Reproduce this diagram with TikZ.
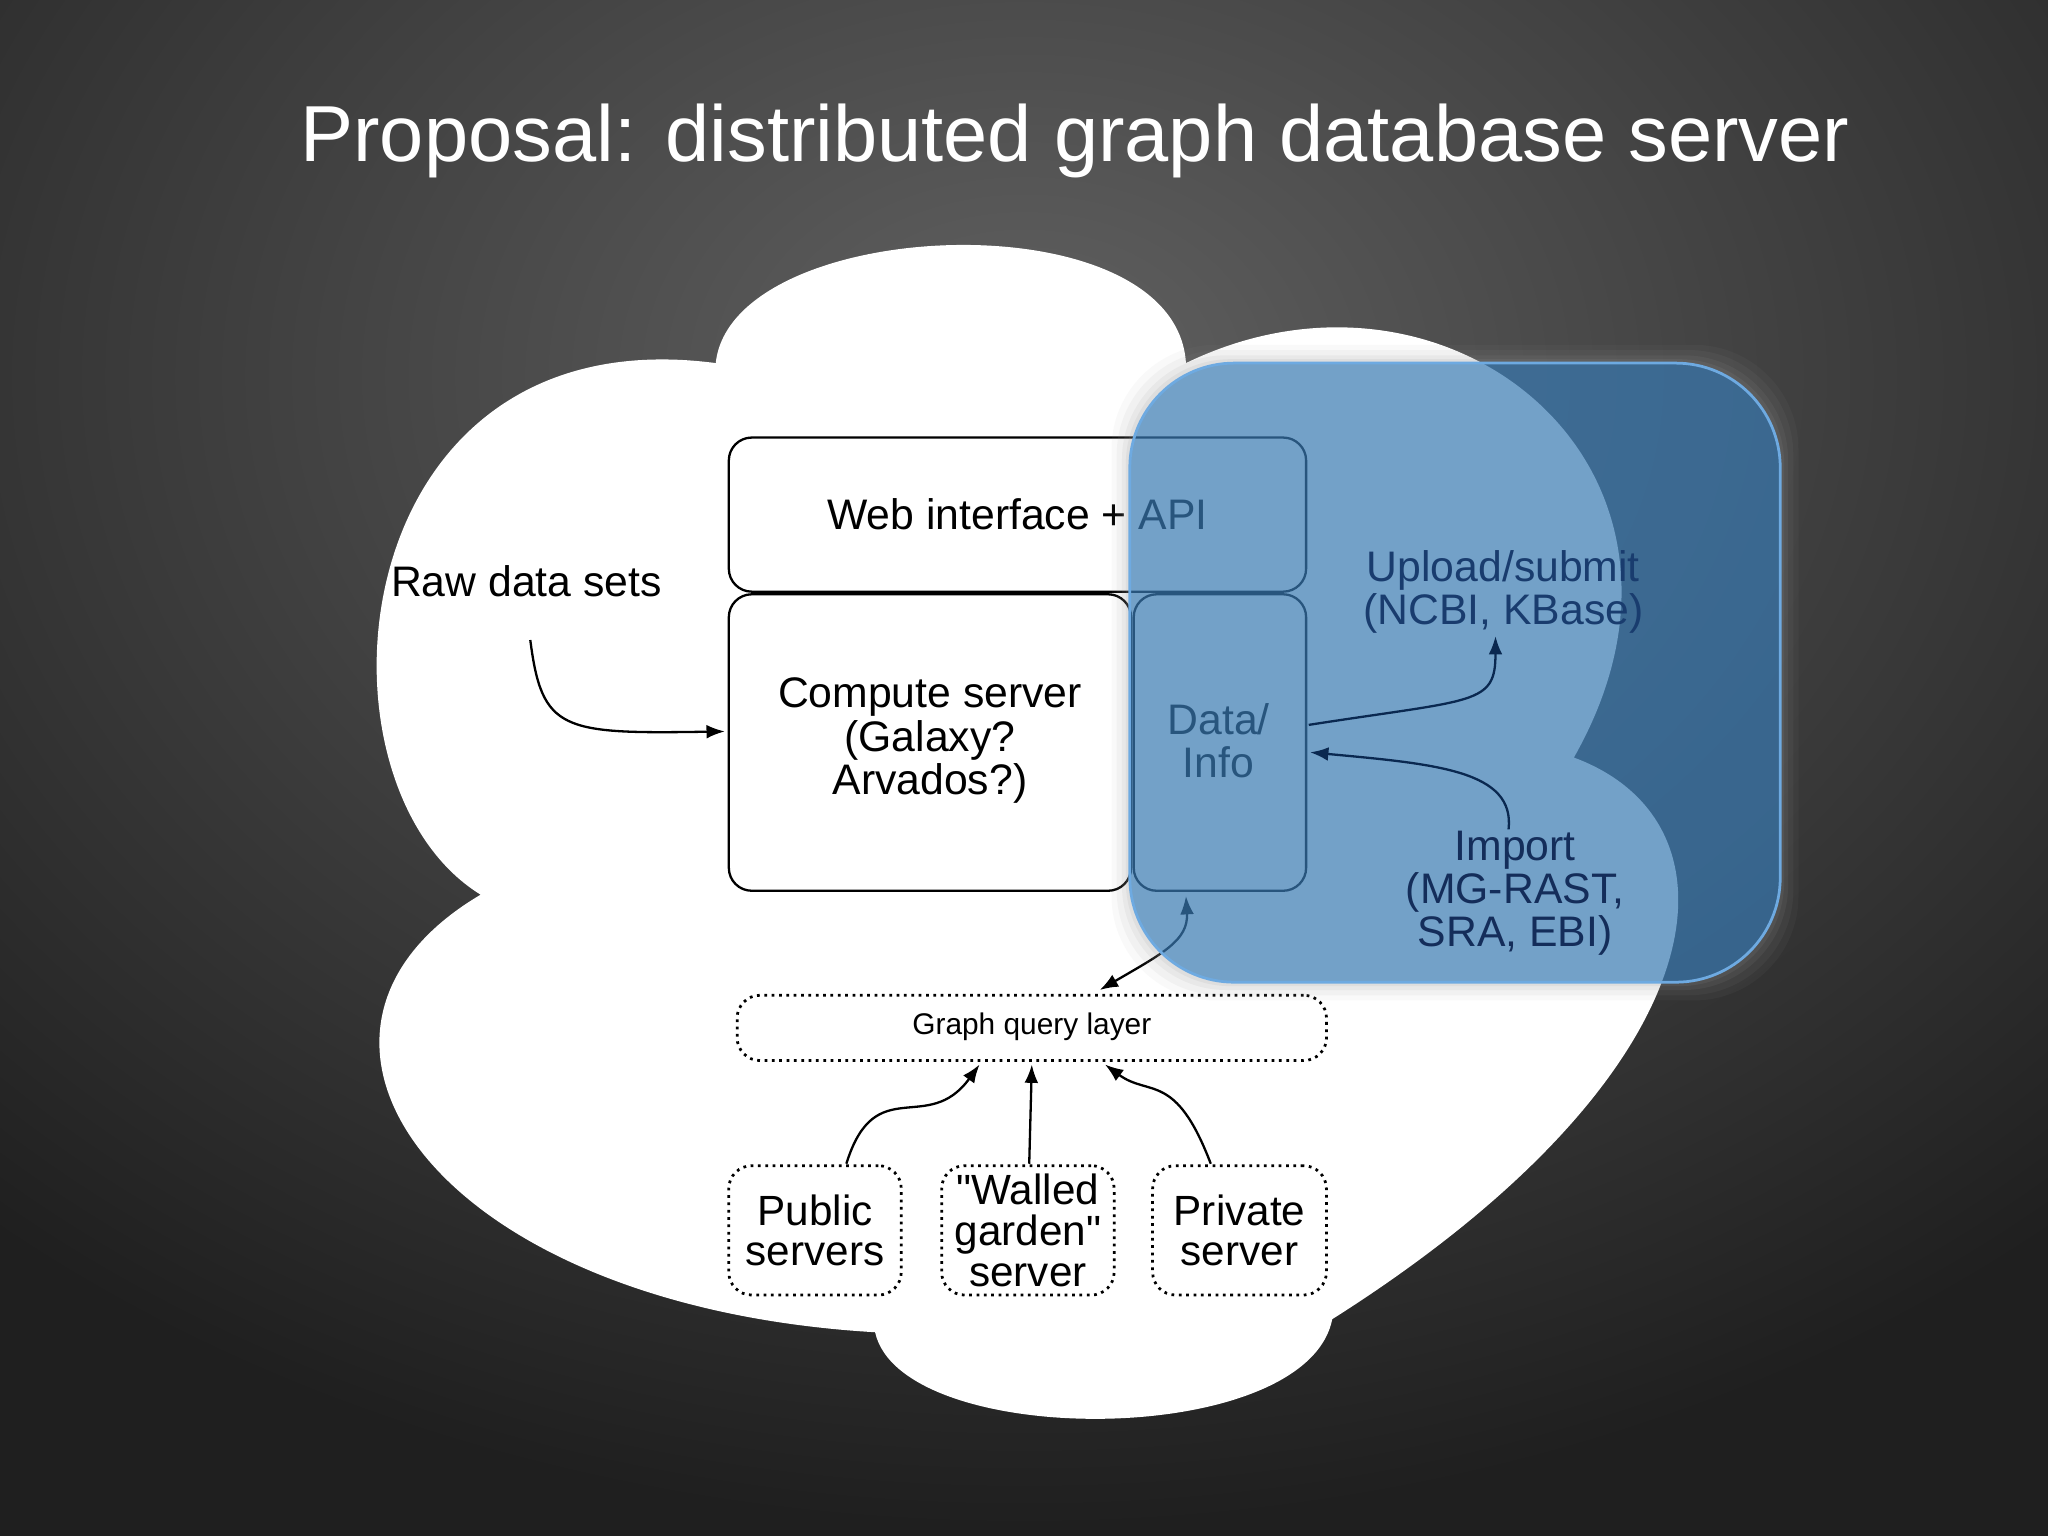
\documentclass[tikz,border=0pt]{standalone}
\usepackage{fontspec}
\setmainfont{Liberation Sans}
\usetikzlibrary{arrows.meta}
\begin{document}
\begin{tikzpicture}[x=0.01cm,y=-0.01cm,
  box/.style={draw=black,line width=0.5pt,rounded corners=5pt},
  dbox/.style={draw=black,line width=0.6pt,densely dotted,rounded corners=5pt,align=center,font=\fontsize{9.2}{8.9}\selectfont,inner sep=0pt},
  arr/.style={-{Latex[length=4pt,width=3pt]},line width=0.5pt},
  lbl/.style={align=center,font=\fontsize{9.3}{9.4}\selectfont}]
\begin{scope}
\clip (0,0) rectangle (1568,1176);
\shade[inner color=black!62,outer color=black!88] (-400,-600) rectangle (1968,1176);
\end{scope}
\useasboundingbox (0,0) rectangle (1568,1176);
\node[text=white,font=\fontsize{17.3}{20}\selectfont] (title) at (823,108) {Proposal: distributed graph database server};
% cloud
\fill[white] (548,278) .. controls (560,165) and (900,150) .. (908,278)
 .. controls (1110,180) and (1330,360) .. (1205,580)
 .. controls (1340,630) and (1320,820) .. (1020,1010)
 .. controls (1000,1110) and (690,1110) .. (670,1020)
 .. controls (330,1000) and (190,790) .. (368,685)
 .. controls (230,600) and (260,240) .. (548,278) -- cycle;
% boxes
\draw[box] (558,335) rectangle (1000,453);
\node[lbl] (webt) at (779,394) {Web interface + API};
\draw[box] (558,455) rectangle (866,682);
\node[lbl] (comp) at (712,567) {Compute server\\(Galaxy?\\Arvados?)};
\draw[box] (868,455) rectangle (1000,682);
\node[lbl] (data) at (933,567) {Data/\\Info};
\coordinate (dataL) at (1003,576);
\coordinate (dataR) at (1002,555);
\coordinate (dataB) at (908,686);
\node[dbox,minimum width=4.51cm,minimum height=0.5cm] (gq) at (790,787) {};
\node[font=\fontsize{6.5}{7}\selectfont] at (790,786) {Graph query layer};
\node[dbox,minimum width=1.32cm,minimum height=0.99cm] (pub) at (624,942) {Public\\servers};
\node[dbox,minimum width=1.32cm,minimum height=0.99cm] (wall) at (787,942) {\textquotedbl Walled\\garden\textquotedbl\\server};
\node[dbox,minimum width=1.33cm,minimum height=0.99cm] (priv) at (949,942) {Private\\server};
\node[lbl] (raw) at (403,445) {Raw data sets};
% arrows
\draw[arr] (406,490) .. controls (415,560) and (430,562) .. (555,560);
\draw[arr] (648,891) .. controls (670,820) and (710,870) .. (750,815);
\draw[arr] (788,891) -- (790,815);
\draw[arr] (927,891) .. controls (900,820) and (880,840) .. (846,815);
\draw[{Latex[length=4pt,width=3pt]}-{Latex[length=4pt,width=3pt]},line width=0.5pt] (dataB) .. controls (910,720) and (890,730) .. (842,758);
% glow
\foreach \r/\o in {14/0.06,10/0.08,6/0.1,3/0.12}{
  \fill[black!40,opacity=\o,rounded corners=0.8cm] (865-\r,278-\r) rectangle (1363+\r,752+\r);}
% blue overlay
\fill[rounded corners=0.8cm,fill={rgb,255:red,35;green,115;blue,185},opacity=0.57] (865,278) rectangle (1363,752);
\draw[rounded corners=0.8cm,draw={rgb,255:red,110;green,170;blue,225},line width=0.6pt] (865,278) rectangle (1363,752);
\draw[arr,draw={rgb,255:red,10;green,40;blue,80}] (dataR) .. controls (1130,535) and (1145,540) .. (1145,487);
\draw[arr,draw={rgb,255:red,10;green,40;blue,80}] (1155,635) .. controls (1160,590) and (1100,585) .. (dataL);
\node[lbl,text={rgb,255:red,25;green,60;blue,110}] (up) at (1151,453) {Upload/submit\\(NCBI, KBase)};
\node[lbl,text={rgb,255:red,20;green,45;blue,90}] (imp) at (1160,684) {Import\\(MG-RAST,\\SRA, EBI)};
\end{tikzpicture}
\end{document}
